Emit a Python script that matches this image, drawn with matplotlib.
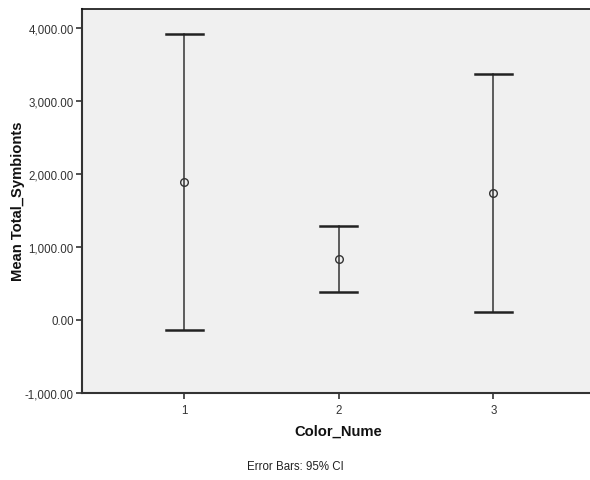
import matplotlib
matplotlib.use("Agg")
import matplotlib.pyplot as plt
from matplotlib.ticker import FuncFormatter

categories = [1, 2, 3]
means = [1888, 834, 1733]
ci_lower = [-137, 383, 105]
ci_upper = [3912, 1282, 3365]
yticks = [-1000, 0, 1000, 2000, 3000, 4000]

plt.rcParams['font.family'] = ['Liberation Sans', 'DejaVu Sans']

fig = plt.figure(figsize=(5.9, 4.81), dpi=100)
ax = fig.add_axes([82/590, 1-394/481, 1-82/590, (394-9.5)/481])
ax.set_facecolor('#f0f0f0')

for x, m, lo, hi in zip(categories, means, ci_lower, ci_upper):
    ax.plot([x, x], [lo, hi], color='#333333', lw=1.1, zorder=2)
    ax.plot([x-0.12, x+0.12], [lo, lo], color='#222222', lw=1.8, zorder=2)
    ax.plot([x-0.12, x+0.12], [hi, hi], color='#222222', lw=1.8, zorder=2)
ax.plot(categories, means, linestyle='none', marker='o', markersize=5.5,
        markerfacecolor='none', markeredgecolor='#333333', markeredgewidth=1.0, zorder=3)

ax.set_xlim(0.337, 3.625)
ax.set_ylim(-1000, 4260)
ax.set_xticks(categories)
ax.set_yticks(yticks)
ax.yaxis.set_major_formatter(FuncFormatter(lambda v, p: f"{v:,.2f}"))
ax.tick_params(axis='both', labelsize=8.3, colors='#333333', length=4, width=1.2, pad=2)
ax.tick_params(axis='x', pad=4)

for s in ['left', 'bottom']:
    ax.spines[s].set_linewidth(1.5)
    ax.spines[s].set_color('#333333')
ax.spines['top'].set_linewidth(1.2)
ax.spines['top'].set_color('#111111')
ax.spines['right'].set_visible(False)

ax.set_ylabel('Mean Total_Symbionts', fontsize=10.6, fontweight='bold', color='#111111')
ax.yaxis.set_label_coords((18-82)/508, 0.5)
ax.yaxis.label.set_va('center')
ax.set_xlabel('Color_Nume', fontsize=10.6, fontweight='bold', color='#111111')
ax.xaxis.label.set_va('center')
ax.xaxis.set_label_coords((338.5-82)/508, (394-432)/384.5)
fig.text(295/590, 1-467/481, 'Error Bars: 95% CI', ha='center', va='center', fontsize=8.3, color='#222222')

fig.savefig('out.png', dpi=100)
